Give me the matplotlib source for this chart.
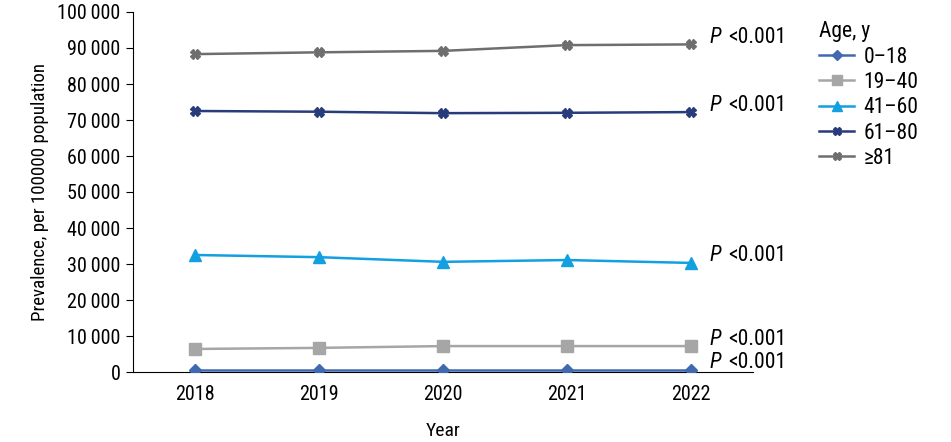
import matplotlib
matplotlib.use("Agg")
import matplotlib.pyplot as plt
import matplotlib.ticker as mticker
from matplotlib.lines import Line2D

plt.rcParams["font.family"] = ["Roboto Condensed", "DejaVu Sans"]

# Data
years = ["2018", "2019", "2020", "2021", "2022"]
age_groups = ["0\u201318", "19\u201340", "41\u201360", "61\u201380", "\u226581"]
prev_0_18 = [600, 600, 600, 600, 600]
prev_19_40 = [6400, 6700, 7200, 7200, 7200]
prev_41_60 = [32500, 31900, 30600, 31100, 30300]
prev_61_80 = [72500, 72300, 71900, 72000, 72200]
prev_81 = [88300, 88800, 89200, 90800, 91000]
p_value = "<0.001"

series = [prev_0_18, prev_19_40, prev_41_60, prev_61_80, prev_81]
COLORS = ["#4169b0", "#a6a6a6", "#12a0e0", "#283c7c", "#6e6e6e"]
MARKERS = ["D", "s", "^", "X", "X"]
MSIZES = [6, 8, 8, 7, 7]


def _fmt_thousands(x, pos):
    """Thin-space thousands separator, as in the journal style."""
    return f"{int(x):,}".replace(",", "\u2009")


fig = plt.figure(figsize=(9.51, 4.42), dpi=100)
ax = fig.add_axes([133 / 951, 70 / 442, 620 / 951, 360 / 442])

xs = list(range(len(years)))
for i, vals in enumerate(series):
    ax.plot(xs, vals, color=COLORS[i], linewidth=1.8, marker=MARKERS[i],
            markersize=MSIZES[i], label=age_groups[i], zorder=3)
    # P-value label to the right of the last point
    ax.annotate("P", xy=(xs[-1], vals[-1]), xytext=(13, 5),
                textcoords="offset points", fontsize=15.5, va="center",
                ha="left", style="italic", annotation_clip=False)
    ax.annotate(p_value, xy=(xs[-1], vals[-1]), xytext=(27, 5),
                textcoords="offset points", fontsize=15.5, va="center",
                ha="left", annotation_clip=False)

ax.set_xlim(-0.5, len(years) - 0.5)
ax.set_ylim(0, 100000)
ax.set_xticks(xs)
ax.set_xticklabels(years)
ax.yaxis.set_major_locator(mticker.MultipleLocator(10000))
ax.yaxis.set_major_formatter(mticker.FuncFormatter(_fmt_thousands))
ax.tick_params(axis="x", length=0, labelsize=14.5, pad=9)
ax.tick_params(axis="y", length=5, labelsize=14.5, direction="out", pad=4)
for side in ["top", "right"]:
    ax.spines[side].set_visible(False)

ax.set_xlabel("Year", fontsize=14, labelpad=13)
ax.set_ylabel("Prevalence, per 100000 population", fontsize=13.6, labelpad=6)

handles = [Line2D([], [], color=COLORS[i], marker=MARKERS[i], linewidth=1.8,
                  markersize=MSIZES[i] - 1) for i in range(len(series))]
fig.legend(handles, age_groups, title="Age, y", loc="upper left",
           bbox_to_anchor=(800 / 951, 1 - 2 / 442), frameon=False,
           fontsize=15.5, title_fontsize=15.5, handlelength=1.6,
           handletextpad=0.45, labelspacing=0.2, alignment="left")

fig.savefig("out.png", dpi=100)
